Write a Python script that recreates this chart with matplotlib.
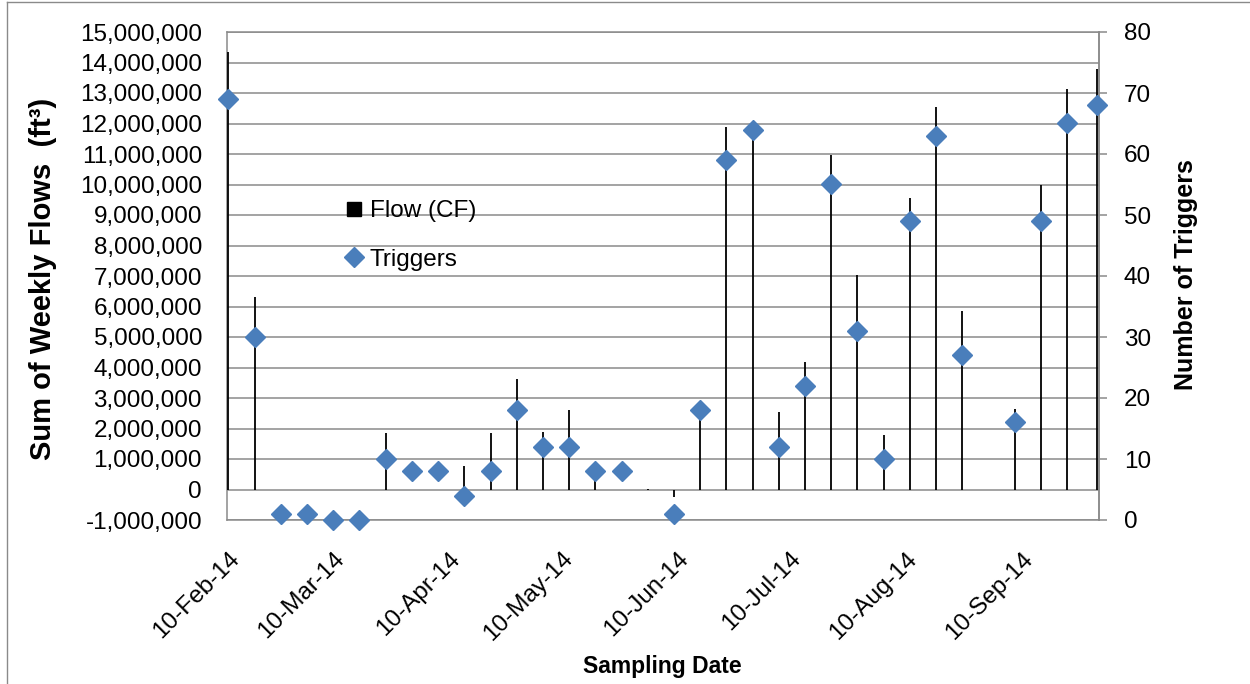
import numpy as np
import pandas as pd
import matplotlib
matplotlib.use('Agg')
import matplotlib.pyplot as plt
import matplotlib.dates as mdates
from matplotlib.lines import Line2D
from matplotlib.ticker import FuncFormatter, MultipleLocator

plt.rcParams['font.family'] = ['Liberation Sans', 'DejaVu Sans']

# weekly sampling dates (Sep 1 week was not sampled)
sample_dates = [
    '2014-02-10', '2014-02-17', '2014-02-24', '2014-03-03', '2014-03-10', '2014-03-17',
    '2014-03-24', '2014-03-31', '2014-04-07', '2014-04-14', '2014-04-21', '2014-04-28',
    '2014-05-05', '2014-05-12', '2014-05-19', '2014-05-26', '2014-06-02', '2014-06-09',
    '2014-06-16', '2014-06-23', '2014-06-30', '2014-07-07', '2014-07-14', '2014-07-21',
    '2014-07-28', '2014-08-04', '2014-08-11', '2014-08-18', '2014-08-25', '2014-09-08',
    '2014-09-15', '2014-09-22', '2014-09-30',
]

# sum of weekly flows, cubic feet
weekly_flow_cf = [
    14340000, 6320000, 0, 0, 0, 0,
    1860000, 0, 0, 770000, 1860000, 3620000,
    1870000, 2600000, 500000, 0, 30000, -260000,
    2600000, 11880000, 11800000, 2540000, 4170000, 10980000,
    7030000, 1780000, 9550000, 12530000, 5840000, 2640000,
    9970000, 13130000, 13780000,
]

trigger_counts = [
    69, 30, 1, 1, 0, 0,
    10, 8, 8, 4, 8, 18,
    12, 12, 8, 8, np.nan, 1,
    18, 59, 64, 12, 22, 55,
    31, 10, 49, 63, 27, 16,
    49, 65, 68,
]

month_ticks = ['2014-02-10', '2014-03-10', '2014-04-10', '2014-05-10',
               '2014-06-10', '2014-07-10', '2014-08-10', '2014-09-10']

dates = pd.to_datetime(sample_dates)
grid_grey = '#8a8a8a'
diamond_blue = '#4a7ebb'
W, H = 1250, 684

fig = plt.figure(figsize=(W / 100, H / 100), dpi=100)
ax = fig.add_axes([227 / W, 1 - 520 / H, (1099 - 227) / W, (520 - 32) / H])

# flow stems on the left axis
ax.set_ylim(-1e6, 15e6)
ax.yaxis.set_major_locator(MultipleLocator(1e6))
ax.yaxis.set_major_formatter(FuncFormatter(lambda v, _: f'{v:,.0f}'))
ax.grid(axis='y', color=grid_grey, lw=1.1)
ax.set_axisbelow(True)
ax.vlines(dates, 0, weekly_flow_cf, colors='black', lw=1.3, zorder=3, clip_on=False)

ax.set_xlim(dates[0] - pd.Timedelta(hours=9), dates[-1] + pd.Timedelta(hours=12))
ax.set_xticks(pd.to_datetime(month_ticks))
ax.xaxis.set_major_formatter(mdates.DateFormatter('%d-%b-%y'))
ax.tick_params(axis='x', length=0, pad=20, labelsize=17.5)
plt.setp(ax.get_xticklabels(), rotation=45, ha='right', va='top', rotation_mode='anchor')
ax.tick_params(axis='y', length=0, pad=18, labelsize=17.5)
for s in ax.spines.values():
    s.set_color(grid_grey)
    s.set_linewidth(1.1)

# trigger counts on the right axis
ax2 = ax.twinx()
ax2.set_ylim(0, 80)
ax2.yaxis.set_major_locator(MultipleLocator(10))
ax2.plot(dates, trigger_counts, ls='none', marker='D', ms=10, color=diamond_blue,
         clip_on=False, zorder=4)
ax2.tick_params(axis='y', direction='out', length=5.8, width=1.1, color=grid_grey,
                pad=12, labelsize=17.5)
for name, s in ax2.spines.items():
    s.set_visible(name == 'right')
    s.set_color(grid_grey)
    s.set_linewidth(1.1)

handles = [
    Line2D([], [], ls='none', marker='s', ms=10.5, color='black'),
    Line2D([], [], ls='none', marker='D', ms=10, color=diamond_blue),
]
ax2.legend(handles, ['Flow (CF)', 'Triggers'], loc='upper left',
           bbox_to_anchor=(342 / W, 1 - 200 / H), bbox_transform=fig.transFigure,
           frameon=False, fontsize=17.5, handlelength=1.0, handletextpad=0.15,
           labelspacing=1.1, borderpad=0, borderaxespad=0)

fig.text(43 / W, 1 - 279 / H, 'Sum of Weekly Flows  (ft³)', rotation=90,
         ha='center', va='center', fontsize=21, fontweight='bold')
fig.text(1186 / W, 1 - 275 / H, 'Number of Triggers', rotation=90,
         ha='center', va='center', fontsize=18, fontweight='bold')
fig.text(662 / W, 1 - 667 / H, 'Sampling Date', ha='center', va='center',
         fontsize=16.5, fontweight='bold')

# outer chart frame
fig.add_artist(Line2D([7 / W, 7 / W], [0, 1 - 2 / H], transform=fig.transFigure,
                      color=grid_grey, lw=1))
fig.add_artist(Line2D([7 / W, 1], [1 - 2 / H, 1 - 2 / H], transform=fig.transFigure,
                      color=grid_grey, lw=1))

fig.savefig('out.png', dpi=100)
